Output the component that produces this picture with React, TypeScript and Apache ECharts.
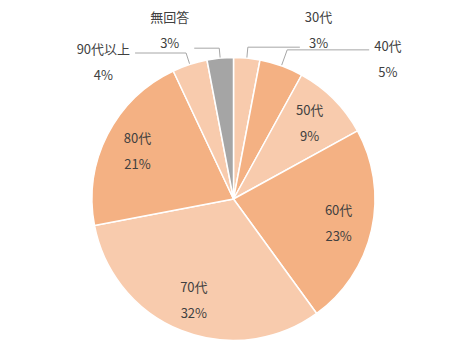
import React, { useEffect, useRef } from 'react';
import * as echarts from 'echarts';

const categories = ['30代', '40代', '50代', '60代', '70代', '80代', '90代以上', '無回答'];
const values = [3, 5, 9, 23, 32, 21, 4, 3];
const sliceColors = ['#F8CBAD', '#F4B183', '#F8CBAD', '#F4B183', '#F8CBAD', '#F4B183', '#F8CBAD', '#A5A5A5'];
const outsideCategories = ['30代', '40代', '90代以上', '無回答'];

const outsideLayout: Record<string, { length: number; length2: number; padding: number[] }> = {
  '30代': { length: 11, length2: 52, padding: [0, 0, 36, 0] },
  '40代': { length: 17, length2: 82, padding: [18, 0, 0, 0] },
  '90代以上': { length: 12, length2: 51, padding: [16, 0, 0, 0] },
  '無回答': { length: 10, length2: 25, padding: [0, 0, 38, 0] },
};

const FONT = '"Noto Sans CJK JP", "Noto Sans", sans-serif';
const TEXT_COLOR = '#404040';
const CENTER = [233.5, 199];
const R = 141.5;
const FS = 13;

const rich = {
  t: { align: 'center', lineHeight: 26, fontSize: FS, color: TEXT_COLOR, fontFamily: FONT },
};

export default function App() {
  const ref = useRef<HTMLDivElement>(null);
  useEffect(() => {
    document.body.style.margin = '0';
    if (!ref.current) return;
    const chart = echarts.init(ref.current, undefined, { renderer: 'svg' });

    const mainData = categories.map((name, i) => {
      const isOut = outsideCategories.includes(name);
      const lay = outsideLayout[name];
      return {
        name,
        value: values[i],
        itemStyle: { color: sliceColors[i] },
        label: isOut ? { show: true, padding: lay.padding } : { show: false },
        labelLine: isOut ? { show: true, length: lay.length, length2: lay.length2 } : { show: false },
      };
    });

    const innerData = categories.map((name, i) => ({
      name,
      value: values[i],
      label: { show: !outsideCategories.includes(name) },
    }));

    chart.setOption({
      animation: false,
      backgroundColor: '#ffffff',
      series: [
        {
          type: 'pie',
          center: CENTER,
          radius: [0, R],
          startAngle: 90,
          clockwise: true,
          avoidLabelOverlap: false,
          silent: true,
          itemStyle: { borderColor: '#ffffff', borderWidth: 1.5 },
          label: {
            position: 'outside',
            formatter: '{t|{b}}\n{t|{c}%}',
            rich,
            color: TEXT_COLOR,
            fontFamily: FONT,
            fontSize: FS,
            distanceToLabelLine: 5,
          },
          labelLine: { lineStyle: { color: '#A6A6A6', width: 1 } },
          emphasis: { disabled: true },
          data: mainData,
        },
        {
          type: 'pie',
          center: CENTER,
          radius: [R * 0.48, R],
          startAngle: 90,
          clockwise: true,
          avoidLabelOverlap: false,
          silent: true,
          itemStyle: { color: 'rgba(0,0,0,0)', borderWidth: 0 },
          label: {
            position: 'inside',
            formatter: '{t|{b}}\n{t|{c}%}',
            rich,
            color: TEXT_COLOR,
            fontFamily: FONT,
            fontSize: FS,
          },
          labelLine: { show: false },
          emphasis: { disabled: true },
          data: innerData,
        },
      ],
    });
    return () => chart.dispose();
  }, []);
  return <div ref={ref} style={{ width: 466, height: 359 }} />;
}
